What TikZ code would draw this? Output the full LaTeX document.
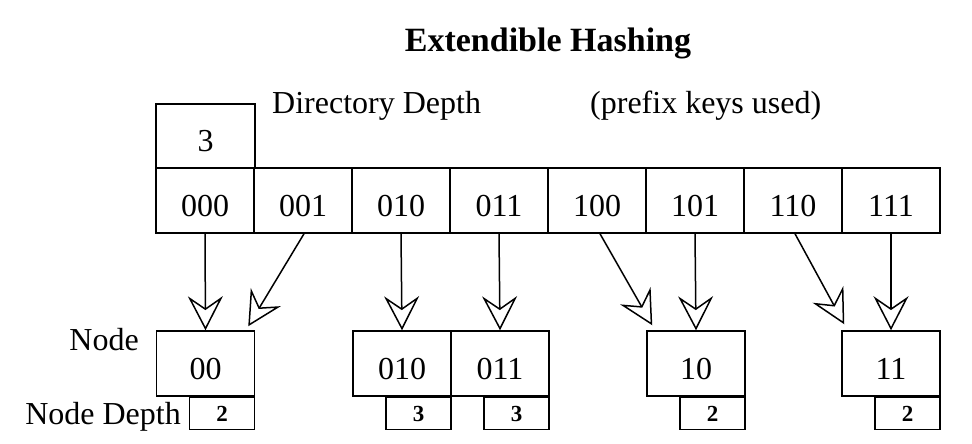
\documentclass[tikz,border=0pt]{standalone}
\usepackage{fontspec}
\setmainfont{Liberation Serif}
\usetikzlibrary{arrows.meta}
\begin{document}
\begin{tikzpicture}[x=1pt,y=-1pt,
  cell/.style={draw, line width=1.5pt, minimum width=98pt, minimum height=65pt, inner sep=0pt, text height=31pt, text depth=0pt, font=\fontsize{32}{36}\selectfont},
  dcell/.style={draw, line width=1.5pt, minimum width=65pt, minimum height=32pt, inner sep=0pt, text height=16pt, text depth=0pt, anchor=north east, font=\fontsize{23}{26}\selectfont\bfseries},
  lbl/.style={inner sep=0pt, font=\fontsize{32}{36}\selectfont},
  arr/.style={line width=1.5pt, -{Stealth[open, length=34pt, width=35pt, inset=12pt, fill=white, line width=1.5pt]}}
]
\useasboundingbox (0,0) rectangle (972,444);
\node[inner sep=0pt, anchor=base, font=\fontsize{34}{40}\selectfont\bfseries] (title) at (548,52) {Extendible Hashing};
\node[cell, minimum width=99pt, minimum height=64pt] (dd) at (205.5,136) {3};
\node[lbl, anchor=base west] (ddl) at (272,113) {Directory Depth};
\node[lbl, anchor=base west] (pk) at (590,113) {(prefix keys used)};
\node[cell] (d0) at (205,200.5) {000};
\node[cell] (d1) at (303,200.5) {001};
\node[cell] (d2) at (401,200.5) {010};
\node[cell] (d3) at (499,200.5) {011};
\node[cell] (d4) at (597,200.5) {100};
\node[cell] (d5) at (695,200.5) {101};
\node[cell] (d6) at (793,200.5) {110};
\node[cell] (d7) at (891,200.5) {111};
\node[cell] (n00) at (205.5,363.5) {00};
\node[cell] (n010) at (402,363.5) {010};
\node[cell] (n011) at (500,363.5) {011};
\node[cell] (n10) at (696,363.5) {10};
\node[cell] (n11) at (891,363.5) {11};
\node[dcell] (e00) at (n00.south east) {2};
\node[dcell] (e010) at (n010.south east) {3};
\node[dcell] (e011) at (n011.south east) {3};
\node[dcell] (e10) at (n10.south east) {2};
\node[dcell] (e11) at (n11.south east) {2};
\node[lbl, anchor=base east] (nl) at (139,350) {Node};
\node[lbl, anchor=base east] (ndl) at (181,424) {Node Depth};
\draw[arr] (d0.south) -- (n00.north);
\draw[arr] ([xshift=1pt]d1.south) -- ([xshift=-7pt,yshift=4pt]n00.north east);
\draw[arr] (d2.south) -- (n010.north);
\draw[arr] (d3.south) -- (n011.north);
\draw[arr] ([xshift=3pt]d4.south) -- ([xshift=6pt,yshift=5pt]n10.north west);
\draw[arr] (d5.south) -- (n10.north);
\draw[arr] ([xshift=2pt]d6.south) -- ([xshift=3pt,yshift=6pt]n11.north west);
\draw[arr] (d7.south) -- (n11.north);
\end{tikzpicture}
\end{document}
